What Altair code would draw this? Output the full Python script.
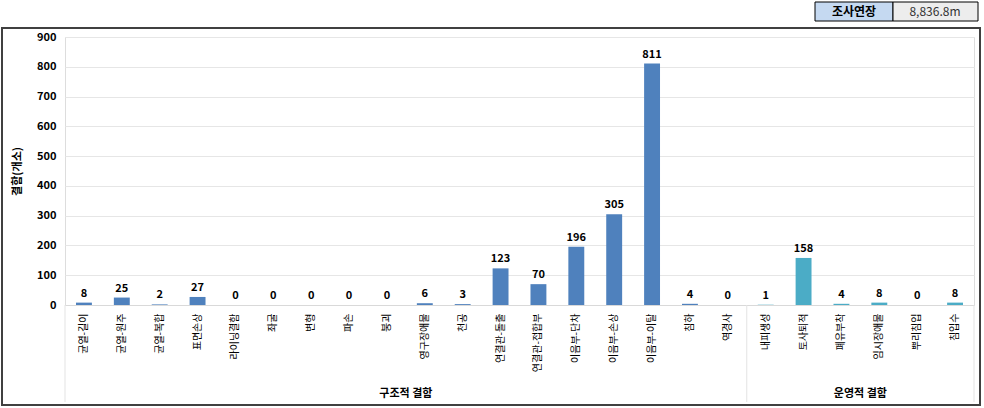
import altair as alt
import pandas as pd

categories = ["균열-길이", "균열-원주", "균열-복합", "표면손상", "라이닝결함", "좌굴", "변형", "파손", "붕괴",
              "영구장애물", "천공", "연결관-돌출", "연결관-접합부", "이음부-단차", "이음부-손상", "이음부-이탈",
              "침하", "역경사", "내피생성", "토사퇴적", "폐유부착", "임시장애물", "뿌리침입", "침입수"]
values = [8, 25, 2, 27, 0, 0, 0, 0, 0, 6, 3, 123, 70, 196, 305, 811, 4, 0, 1, 158, 4, 8, 0, 8]
groups = ["구조적 결함"] * 18 + ["운영적 결함"] * 6
group_names = ["구조적 결함", "운영적 결함"]
group_colors = ["#4F81BD", "#4BACC6"]
group_centers = ["붕괴", "폐유부착"]  # category whose right edge is the group's centre
y_ticks = [0, 100, 200, 300, 400, 500, 600, 700, 800, 900]

FONT = "Noto Sans CJK KR"
W, H = 909, 268

df = pd.DataFrame({"defect": categories, "count": values, "group": groups})

xscale = alt.Scale(paddingInner=0, paddingOuter=0)
xaxis = alt.Axis(labelAngle=-90, labelFontSize=10, labelColor="#000000", ticks=False,
                 labelPadding=8, domainColor="#D9D9D9", labelFont=FONT, title=None)
yaxis = alt.Axis(values=y_ticks, title="결함(개소)", titleFontSize=11, titleFontWeight="bold",
                 labelOverlap=False, titleColor="#000000", titlePadding=14, labelFontWeight="bold",
                 labelFontSize=11, labelColor="#000000", ticks=False, domain=False, labelPadding=9,
                 gridColor="#E6E6E6", labelFont=FONT, titleFont=FONT)


def X(**kw):
    return alt.X("defect:N", sort=categories, scale=xscale, axis=xaxis, **kw)


bars = alt.Chart(df).mark_bar(width=alt.RelativeBandSize(0.42)).encode(
    x=X(),
    y=alt.Y("count:Q", scale=alt.Scale(domain=[0, 900]), axis=yaxis),
    color=alt.Color("group:N", scale=alt.Scale(domain=group_names, range=group_colors), legend=None),
)

labels = alt.Chart(df).mark_text(dy=-9, fontSize=11, fontWeight="bold", color="#000000", font=FONT).encode(
    x=X(),
    y=alt.Y("count:Q", scale=alt.Scale(domain=[0, 900]), axis=yaxis),
    text=alt.Text("count:Q"),
)

sep_left = pd.DataFrame({"defect": [categories[0], categories[18]]})
sep_right = pd.DataFrame({"defect": [categories[-1]]})
seps_l = alt.Chart(sep_left).mark_rule(color="#E3E3E3", strokeWidth=1).encode(
    x=X(bandPosition=0),
    y=alt.value(H), y2=alt.value(H + 97),
)
seps_r = alt.Chart(sep_right).mark_rule(color="#E3E3E3", strokeWidth=1).encode(
    x=X(bandPosition=1),
    y=alt.value(H), y2=alt.value(H + 97),
)

gdf = pd.DataFrame({"defect": group_centers, "name": group_names})
glabels = alt.Chart(gdf).mark_text(fontSize=11, fontWeight="bold", color="#000000", font=FONT,
                                   baseline="middle").encode(
    x=X(bandPosition=1),
    y=alt.value(H + 89),
    text="name:N",
)

one = pd.DataFrame({"k": [0]})
frame = alt.Chart(one).mark_rect(fill="transparent", stroke="#404040", strokeWidth=2).encode(
    x=alt.value(-63), x2=alt.value(915), y=alt.value(-9), y2=alt.value(368),
)

box_rects = alt.Chart(one).mark_rect(fill="#C5D9F1", stroke="#000000", strokeWidth=1).encode(
    x=alt.value(750), x2=alt.value(828), y=alt.value(-35), y2=alt.value(-16),
)
box_rects2 = alt.Chart(one).mark_rect(fill="#EDEDED", stroke="#000000", strokeWidth=1).encode(
    x=alt.value(828), x2=alt.value(913), y=alt.value(-35), y2=alt.value(-16),
)
box_t1 = alt.Chart(one).mark_text(text="조사연장", fontSize=12, fontWeight="bold", color="#000000",
                                  font=FONT, baseline="middle").encode(
    x=alt.value(789), y=alt.value(-25),
)
box_t2 = alt.Chart(one).mark_text(text="8,836.8m", fontSize=12, color="#333333",
                                  font=FONT, baseline="middle").encode(
    x=alt.value(870), y=alt.value(-25),
)

chart = alt.layer(bars, labels, seps_l, seps_r, glabels, frame, box_rects, box_rects2, box_t1, box_t2).properties(
    width=W, height=H,
    autosize=alt.AutoSizeParams(type="none"),
    padding={"left": 65, "top": 37, "right": 10, "bottom": 103},
).configure_view(strokeWidth=0).configure(font=FONT, background="#FFFFFF")

chart.save("out.html", embed_options={"renderer": "svg", "actions": False})
